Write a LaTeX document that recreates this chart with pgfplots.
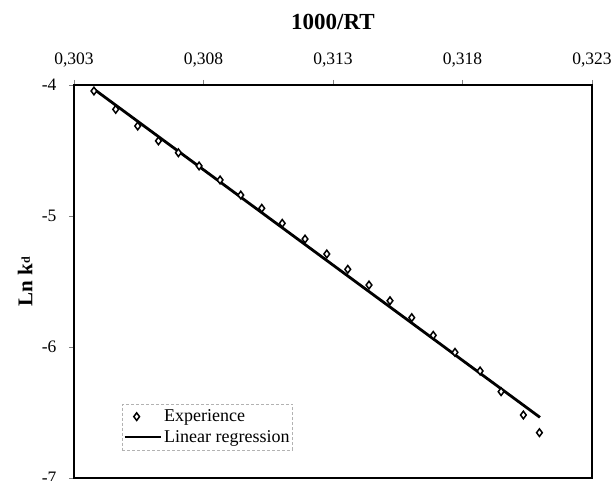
\documentclass[border=0pt]{standalone}
\usepackage{pgfplots}
\pgfplotsset{compat=1.18}
\usepackage{fontspec}
\setmainfont{Liberation Serif}
\begin{document}
\begin{tikzpicture}
\begin{axis}[
  name=ax,
  scale only axis,
  width=518pt, height=393pt,
  xmin=0.303, xmax=0.323,
  ymin=-7, ymax=-4,
  axis line style={line width=1.3pt},
  xtick={0.303,0.308,0.313,0.318,0.323},
  xticklabels={{0,303},{0,308},{0,313},{0,318},{0,323}},
  ytick={-7,-6,-5,-4},
  yticklabels={{-7},{-6},{-5},{-4}},
  xticklabel pos=upper,
  xtick pos=upper,
  ytick pos=left,
  tick align=outside,
  major tick length=5pt,
  tick style={line width=0.6pt, gray},
  xticklabel style={font=\fontsize{17.5}{20}\selectfont, yshift=9pt},
  yticklabel style={font=\fontsize{17.5}{20}\selectfont, xshift=-9pt},
  xlabel={\textbf{1000/RT}},
  xlabel style={font=\fontsize{23}{26}\selectfont, at={(axis description cs:0.5,1.160)}, anchor=center},
  ylabel={\textbf{Ln k\raisebox{0.25ex}{\fontsize{12}{12}\selectfont d}}},
  ylabel style={font=\fontsize{21}{24}\selectfont, at={(axis description cs:-0.0946,0.5)}, anchor=center},
  legend style={at={(axis description cs:0.0927,0.0712)}, anchor=south west,
    draw=gray!60, densely dashed, line width=0.5pt, font=\fontsize{18}{21}\selectfont,
    inner xsep=1pt, inner ysep=4pt, row sep=3pt, fill=white},
  legend cell align=left,
  legend image code/.code={\draw[#1, solid] (0pt,0pt) -- (36pt,0pt);},
]
\addplot[only marks, mark=diamond*, mark size=3.8pt, mark options={fill=white, draw=black, line width=1.5pt, solid},
  legend image code/.code={\draw[mark repeat=2,mark phase=2] plot coordinates {(0pt,0pt) (12pt,0pt) (24pt,0pt)};}]
coordinates {
(0.30377,-4.046)
(0.30461,-4.186)
(0.30546,-4.313)
(0.30626,-4.427)
(0.30703,-4.517)
(0.30783,-4.618)
(0.30864,-4.725)
(0.30944,-4.840)
(0.31025,-4.941)
(0.31104,-5.056)
(0.31192,-5.176)
(0.31276,-5.290)
(0.31357,-5.407)
(0.31439,-5.527)
(0.31520,-5.647)
(0.31604,-5.776)
(0.31687,-5.911)
(0.31771,-6.041)
(0.31868,-6.183)
(0.31949,-6.341)
(0.32035,-6.519)
(0.32097,-6.654)
};
\addlegendentry{Experience}
\addplot[black, line width=2.8pt, solid] coordinates {(0.30378,-4.033) (0.32099,-6.537)};
\addlegendentry{Linear regression}
\end{axis}
\pgfresetboundingbox
\path[use as bounding box] ([shift={(-74pt,-2pt)}]ax.south west) rectangle ([shift={(21pt,85pt)}]ax.north east);
\end{tikzpicture}
\end{document}
